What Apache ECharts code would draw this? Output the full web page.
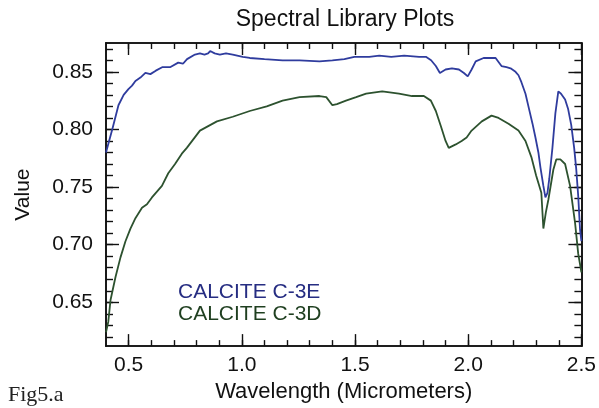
<!DOCTYPE html>
<html>
<head>
<meta charset="utf-8">
<script src="https://cdn.jsdelivr.net/npm/echarts@6/dist/echarts.min.js"></script>
<style>
html,body{margin:0;padding:0;background:#fff;}
#chart{width:599px;height:408px;}
</style>
</head>
<body>
<div id="chart"></div>
<script>
// ---- data ----
const titleText = 'Spectral Library Plots';
const xAxisName = 'Wavelength (Micrometers)';
const yAxisName = 'Value';
const seriesNames = ['CALCITE C-3E', 'CALCITE C-3D'];

const wavelengthE = [0.400,0.411,0.429,0.455,0.478,0.499,0.515,0.530,0.552,0.574,0.596,0.620,0.648,0.683,0.719,0.740,0.758,0.793,0.815,0.835,0.851,0.860,0.880,0.903,0.930,0.960,1.004,1.035,1.100,1.180,1.255,1.343,1.400,1.453,1.497,1.563,1.607,1.660,1.717,1.783,1.813,1.836,1.857,1.875,1.900,1.928,1.959,1.981,1.998,2.015,2.033,2.068,2.099,2.121,2.147,2.169,2.187,2.209,2.222,2.235,2.253,2.266,2.284,2.297,2.310,2.319,2.332,2.341,2.350,2.358,2.372,2.385,2.398,2.410,2.428,2.441,2.455,2.468,2.477,2.486,2.494,2.500];
const valueE = [0.780,0.788,0.801,0.821,0.830,0.835,0.838,0.842,0.845,0.849,0.848,0.851,0.854,0.854,0.858,0.857,0.861,0.865,0.866,0.865,0.866,0.868,0.866,0.865,0.866,0.865,0.863,0.862,0.861,0.860,0.860,0.859,0.860,0.861,0.863,0.863,0.864,0.863,0.864,0.863,0.863,0.860,0.855,0.849,0.852,0.853,0.852,0.849,0.846,0.852,0.859,0.862,0.862,0.862,0.855,0.854,0.853,0.850,0.847,0.841,0.831,0.820,0.805,0.793,0.780,0.767,0.751,0.741,0.745,0.757,0.784,0.814,0.833,0.831,0.826,0.818,0.804,0.784,0.766,0.742,0.713,0.703];

const wavelengthD = [0.400,0.410,0.420,0.442,0.464,0.486,0.508,0.530,0.559,0.581,0.603,0.647,0.675,0.705,0.735,0.757,0.815,0.890,0.960,1.035,1.110,1.180,1.255,1.343,1.373,1.400,1.420,1.460,1.505,1.549,1.620,1.694,1.752,1.804,1.835,1.857,1.879,1.900,1.914,1.945,1.971,1.993,2.015,2.060,2.103,2.134,2.178,2.222,2.253,2.279,2.300,2.323,2.332,2.343,2.354,2.376,2.389,2.407,2.428,2.450,2.472,2.486,2.494,2.500];
const valueD = [0.624,0.633,0.652,0.672,0.689,0.703,0.714,0.723,0.732,0.735,0.741,0.751,0.762,0.770,0.779,0.784,0.799,0.807,0.811,0.816,0.820,0.825,0.828,0.829,0.828,0.821,0.822,0.825,0.828,0.831,0.833,0.831,0.829,0.829,0.825,0.816,0.803,0.790,0.784,0.787,0.790,0.793,0.799,0.807,0.812,0.810,0.805,0.799,0.790,0.776,0.760,0.745,0.714,0.728,0.739,0.765,0.774,0.774,0.770,0.751,0.719,0.692,0.683,0.676];

const xMajorTicks = [0.5, 1.0, 1.5, 2.0, 2.5];
const xMinorTicks = [0.5,0.6,0.7,0.8,0.9,1.0,1.1,1.2,1.3,1.4,1.5,1.6,1.7,1.8,1.9,2.0,2.1,2.2,2.3,2.4];
const yMajorTicks = [0.65, 0.70, 0.75, 0.80, 0.85];
const yMinorTicks = [0.62,0.63,0.64,0.65,0.66,0.67,0.68,0.69,0.70,0.71,0.72,0.73,0.74,0.75,0.76,0.77,0.78,0.79,0.80,0.81,0.82,0.83,0.84,0.85,0.86,0.87];
const xRange = [0.4, 2.5];
const yRange = [0.612, 0.875];
const figLabel = 'Fig5.a';

// ---- styling ----
const ink = '#111';
const blueLine = '#2f3c9e';
const greenLine = '#2d522f';
const blueText = '#262d82';
const greenText = '#1f3f20';
const font = 'Liberation Sans, Helvetica, Arial, sans-serif';
const frame = {color: ink, width: 1.6};

function pairs(xs, ys){ return xs.map((x,i)=>[x, ys[i]]); }

function xAxisDef(pos, ticks, len, withLabel){
  return {
    type:'value', position:pos, min:xRange[0], max:xRange[1],
    axisLine:{show:true, onZero:false, lineStyle:frame},
    axisTick:{show:true, inside:true, length:len, customValues:ticks, lineStyle:{color:ink, width:1.4}},
    axisLabel: withLabel ? {show:true, customValues:xMajorTicks, formatter:v=>v.toFixed(1), margin:9,
      fontSize:21, fontFamily:font, color:ink} : {show:false},
    splitLine:{show:false},
    name: withLabel ? xAxisName : '', nameLocation:'middle', nameGap:29,
    nameTextStyle:{fontSize:22, fontFamily:font, color:ink}
  };
}
function yAxisDef(pos, ticks, len, withLabel){
  return {
    type:'value', position:pos, min:yRange[0], max:yRange[1],
    axisLine:{show:true, onZero:false, lineStyle:frame},
    axisTick:{show:true, inside:true, length:len, customValues:ticks, lineStyle:{color:ink, width:1.4}},
    axisLabel: withLabel ? {show:true, customValues:yMajorTicks, formatter:v=>v.toFixed(2), margin:13,
      fontSize:21, fontFamily:font, color:ink} : {show:false},
    splitLine:{show:false},
    name: withLabel ? yAxisName : '', nameLocation:'middle', nameGap:72, nameRotate:90,
    nameTextStyle:{fontSize:21, fontFamily:font, color:ink}
  };
}

const chart = echarts.init(document.getElementById('chart'), null, {renderer:'canvas'});
chart.setOption({
  backgroundColor:'#fff',
  animation:false,
  title:{text:titleText, left:345, top:8, textAlign:'center', padding:0,
    textStyle:{fontSize:23, fontWeight:'normal', fontFamily:font, color:ink}},
  legend:{
    orient:'vertical', left:168, top:277, icon:'none', itemWidth:0, itemHeight:20, itemGap:1,
    selectedMode:false,
    textStyle:{fontSize:21, fontFamily:font},
    data:[{name:seriesNames[0], textStyle:{color:blueText}},
          {name:seriesNames[1], textStyle:{color:greenText}}]
  },
  grid:{left:106, right:16, top:43, bottom:54, containLabel:false},
  xAxis:[
    xAxisDef('bottom', xMajorTicks, 12, true),
    xAxisDef('bottom', xMinorTicks, 6, false),
    xAxisDef('top', xMajorTicks, 12, false),
    xAxisDef('top', xMinorTicks, 6, false)
  ],
  yAxis:[
    yAxisDef('left', yMajorTicks, 13, true),
    yAxisDef('left', yMinorTicks, 7, false),
    yAxisDef('right', yMajorTicks, 13, false),
    yAxisDef('right', yMinorTicks, 7, false)
  ],
  graphic:[{type:'text', left:8, top:384, style:{text:figLabel, fontSize:22,
    fontFamily:'Liberation Serif, Times New Roman, serif', fill:'#222'}}],
  series:[
    {name:seriesNames[0], type:'line', xAxisIndex:0, yAxisIndex:0, data:pairs(wavelengthE, valueE),
     showSymbol:false, lineStyle:{color:blueLine, width:1.8}, itemStyle:{color:blueLine}, clip:true},
    {name:seriesNames[1], type:'line', xAxisIndex:0, yAxisIndex:0, data:pairs(wavelengthD, valueD),
     showSymbol:false, lineStyle:{color:greenLine, width:1.8}, itemStyle:{color:greenLine}, clip:true}
  ]
});
</script>
</body>
</html>
